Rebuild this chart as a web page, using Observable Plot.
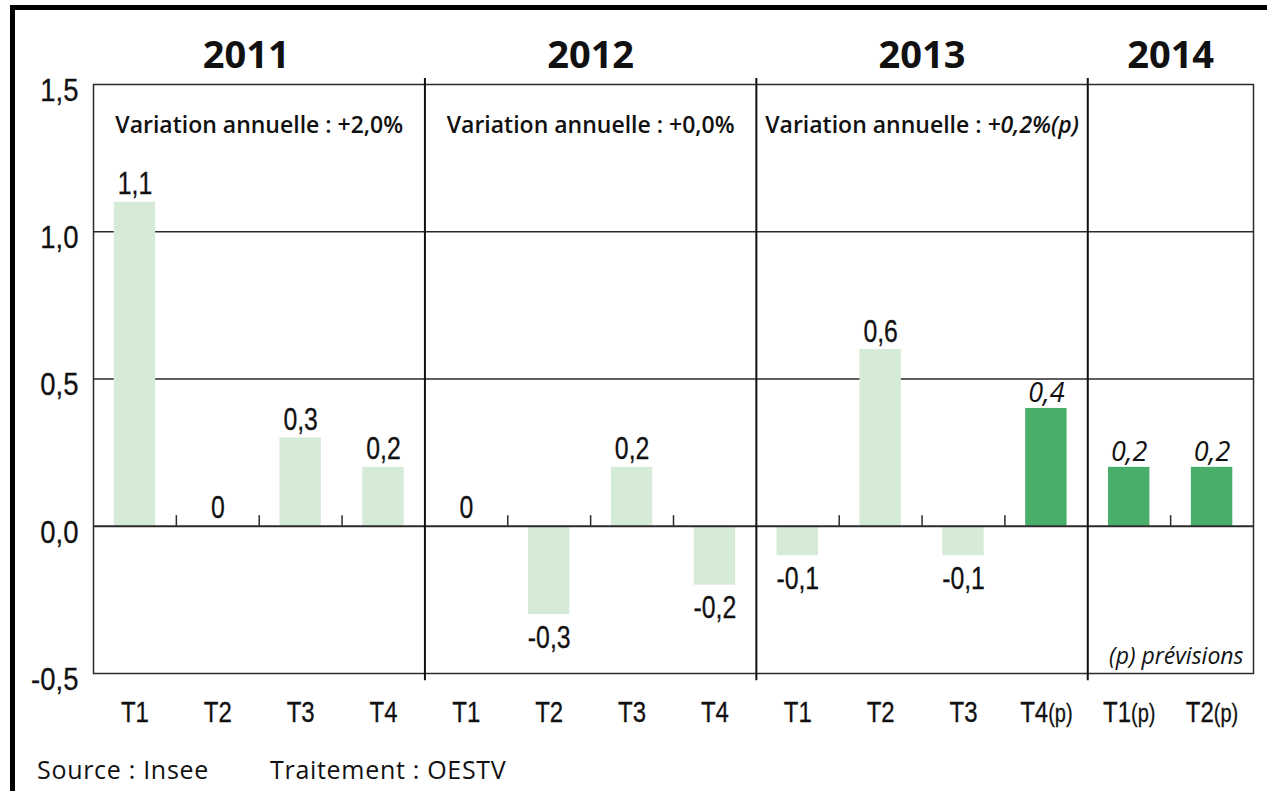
<!DOCTYPE html>
<html>
<head>
<meta charset="utf-8">
<script src="https://cdn.jsdelivr.net/npm/d3@7"></script>
<script src="https://cdn.jsdelivr.net/npm/@observablehq/plot@0.6"></script>
<style>
  html, body { margin: 0; padding: 0; background: #fff; }
  body { width: 1267px; height: 791px; overflow: hidden; position: relative; }
  #chart { position: absolute; left: 0; top: 0; }
  .border-top { position: absolute; left: 10px; top: 5px; width: 1257px; height: 5px; background: #000; }
  .border-left { position: absolute; left: 10px; top: 5px; width: 5px; height: 786px; background: #000; }
  #caption { position: absolute; top: 754px; left: 37px; font-family: "Open Sans", "Noto Sans", sans-serif; font-size: 25px; line-height: 30px; color: #111; letter-spacing: 0.7px; }
  #caption span { position: absolute; top: 0; white-space: nowrap; }
</style>
</head>
<body>
<div id="chart"></div>
<div class="border-top"></div>
<div class="border-left"></div>
<div id="caption"><span style="left:0">Source : Insee</span><span style="left:233px">Traitement : OESTV</span></div>
<script>
// ---- data ----
const years    = ["2011","2011","2011","2011","2012","2012","2012","2012","2013","2013","2013","2013","2014","2014"];
const quarters = ["T1","T2","T3","T4","T1","T2","T3","T4","T1","T2","T3","T4(p)","T1(p)","T2(p)"];
const values   = [1.1, 0, 0.3, 0.2, 0, -0.3, 0.2, -0.2, -0.1, 0.6, -0.1, 0.4, 0.2, 0.2];
const forecast = [false,false,false,false,false,false,false,false,false,false,false,true,true,true];
const yearLabels  = ["2011","2012","2013","2014"];
const annualNotes = ["Variation annuelle : +2,0%", "Variation annuelle : +0,0%", "Variation annuelle : +0,2%(p)", ""];
const yTicks = [-0.5, 0, 0.5, 1, 1.5];
const gridValues = [0.5, 1];
const footNote = "(p) prévisions";

// ---- layout / style ----
const W = 1267, H = 745, ML = 93, MR = 14, MT = 84, MB = 72;
const NARROW = '"Liberation Sans", Arial, sans-serif';
const SANS = '"Open Sans", "Noto Sans", sans-serif';
const LIGHT = "#d6ebd7", DARK = "#4aae6b", LINE = "#2a2a2a";

const keys = years.map((y, i) => y + "-" + quarters[i]);
const data = values.map((v, i) => ({key: keys[i], year: years[i], quarter: quarters[i], value: v, forecast: forecast[i]}));
const step = (W - ML - MR) / keys.length;
const firstKeys = yearLabels.map(y => keys[years.indexOf(y)]);
const innerKeys = keys.filter(k => !firstKeys.includes(k));
const fmt = v => v === 0 ? "0" : v.toFixed(1).replace(".", ",");

const yearMarks = yearLabels.flatMap((y, j) => {
  const ks = keys.filter((k, i) => years[i] === y);
  const first = ks[0];
  const dx = (ks.length - 1) * step / 2;
  const marks = [
    Plot.text([y], {x: () => first, text: d => d, frameAnchor: "top", dx: dx + (j === 0 ? -13 : 0), dy: -17,
      lineAnchor: "bottom", fontSize: 38, fontWeight: 700, fontFamily: SANS, fill: "#111"})
  ];
  if (annualNotes[j]) {
    marks.push(Plot.text([annualNotes[j]], {x: () => first, text: d => d, frameAnchor: "top", dx, dy: 48,
      lineAnchor: "bottom", fontSize: 23, fontWeight: 600, fontFamily: SANS, fill: "#111"}));
  }
  return marks;
});

const svg = Plot.plot({
  width: W, height: H,
  marginLeft: ML, marginRight: MR, marginTop: MT, marginBottom: MB,
  style: {fontFamily: SANS, background: "transparent", overflow: "visible", color: "#111"},
  x: {type: "band", domain: keys, paddingInner: 0.5, paddingOuter: 0.25, align: 0.5, round: false},
  y: {domain: [-0.5, 1.5]},
  marks: [
    Plot.ruleY(gridValues, {stroke: LINE, strokeWidth: 1.3}),
    Plot.barY(data, {filter: d => !d.forecast, x: "key", y: "value", fill: LIGHT}),
    Plot.barY(data, {filter: d => d.forecast, x: "key", y: "value", fill: DARK}),
    Plot.ruleY([0], {stroke: LINE, strokeWidth: 2}),
    Plot.ruleX(innerKeys, {x: d => d, dx: -step / 2, y1: 0.036, y2: 0, stroke: LINE, strokeWidth: 1.5}),
    Plot.frame({stroke: LINE, strokeWidth: 1.5}),
    Plot.ruleX(firstKeys.slice(1), {x: d => d, dx: -step / 2, y1: 1.52, y2: -0.525, stroke: "#111", strokeWidth: 2}),
    Plot.text(data, {filter: d => !d.forecast && d.value >= 0, x: "key", y: "value", text: d => fmt(d.value),
      lineAnchor: "bottom", dy: -8, fontSize: 31, fontFamily: NARROW, fill: "#111"}),
    Plot.text(data, {filter: d => !d.forecast && d.value < 0, x: "key", y: "value", text: d => fmt(d.value),
      lineAnchor: "top", dy: 11, fontSize: 31, fontFamily: NARROW, fill: "#111"}),
    Plot.text(data, {filter: d => d.forecast, x: "key", y: "value", text: d => fmt(d.value),
      lineAnchor: "bottom", dy: -6, fontSize: 27, fontStyle: "italic", fontFamily: SANS, fill: "#111"}),
    ...yearMarks,
    Plot.text([footNote], {text: d => d, frameAnchor: "bottom-right", dx: -10, dy: -10, lineAnchor: "bottom",
      fontSize: 23, fontStyle: "italic", fontFamily: SANS, fill: "#111"}),
    Plot.axisX({tickSize: 0, tickPadding: 27, tickFormat: k => quarters[keys.indexOf(k)], fontSize: 30,
      fontFamily: NARROW, label: null, fill: "#111"}),
    Plot.axisY({ticks: yTicks, tickSize: 0, tickPadding: 15, tickFormat: v => v.toFixed(1).replace(".", ","),
      fontSize: 32, fontFamily: NARROW, dy: 6, label: null, fill: "#111"})
  ]
});

const root = d3.select(svg);
// condensed look for the number/tick font: horizontal squeeze around each text's anchor
root.selectAll("text").each(function () {
  const ff = this.closest("[font-family]");
  if (!ff || !ff.getAttribute("font-family").startsWith('"Liberation')) return;
  const sx = this.closest('g[aria-label="y-axis tick label"]') ? 0.86 : 0.8;
  const tr = this.getAttribute("transform");
  if (tr) {
    this.setAttribute("transform", `${tr} scale(${sx},1)`);
  } else {
    const x = +this.getAttribute("x") || 0, y = +this.getAttribute("y") || 0;
    this.removeAttribute("x"); this.removeAttribute("y");
    this.setAttribute("transform", `translate(${x},${y}) scale(${sx},1)`);
  }
  this.setAttribute("stroke", "#111");
  this.setAttribute("stroke-width", 0.3);
});
// "(p)" suffix of tick labels in a smaller size
root.selectAll('g[aria-label="x-axis tick label"] text').each(function () {
  const t = this.textContent;
  const m = t.match(/^(.*)(\(p\))$/);
  if (m) {
    this.textContent = "";
    d3.select(this).append("tspan").text(m[1]);
    d3.select(this).append("tspan").attr("font-size", 25).text(m[2]);
  }
});
// italic forecast part of the 2013 annotation
root.selectAll("text").each(function () {
  const t = this.textContent;
  if (t.startsWith("Variation annuelle") && t.endsWith("(p)")) {
    const idx = t.indexOf("+");
    this.textContent = "";
    d3.select(this).append("tspan").text(t.slice(0, idx));
    d3.select(this).append("tspan").attr("font-style", "italic").text(t.slice(idx));
  }
});

document.getElementById("chart").append(svg);
</script>
</body>
</html>
